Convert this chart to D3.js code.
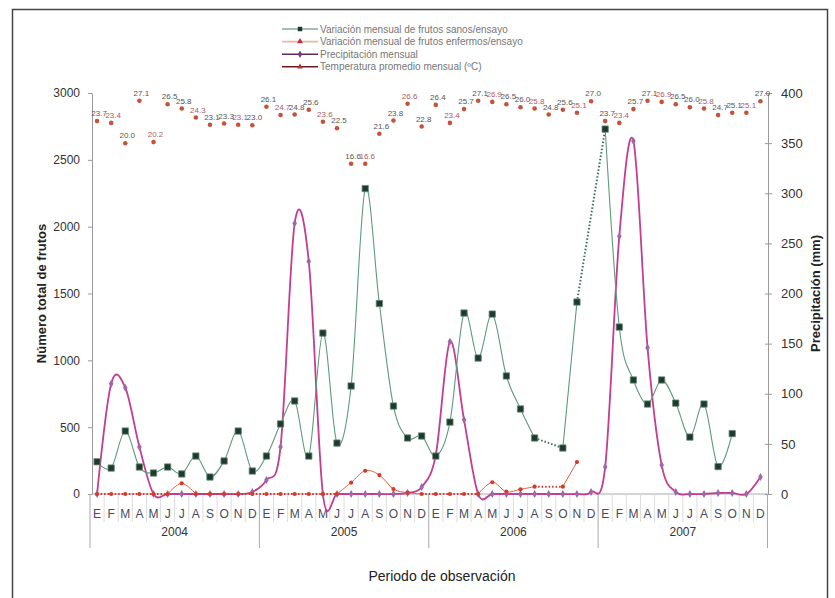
<!DOCTYPE html>
<html>
<head>
<meta charset="utf-8">
<script src="https://cdn.jsdelivr.net/npm/d3@7"></script>
<style>
  body { margin: 0; background: #fff; }
  svg { font-family: "Liberation Sans", Arial, sans-serif; }
</style>
</head>
<body>
<div id="chart"></div>
<script>
// months of each year (E = enero ... D = diciembre)
const monthLetters = ['E', 'F', 'M', 'A', 'M', 'J', 'J', 'A', 'S', 'O', 'N', 'D'];
const years = ['2004', '2005', '2006', '2007'];

// healthy fruits per trial (left axis); null = month not sampled
const healthy = [
  241, 194, 471, 202, 157, 202, 150, 284, 127, 247, 471, 172,
  284, 524, 696, 284, 1204, 381, 808, 2285, 1425, 658, 419, 434,
  284, 538, 1354, 1017, 1346, 883, 636, 419, null, 344, 1436, null,
  2730, 1249, 853, 673, 853, 680, 426, 673, 205, 452, null, null
];

// diseased fruits per trial (left axis)
const diseased = [
  0, 0, 0, 0, 0, 0, 80, 0, 0, 0, 0, 0,
  0, 0, 0, 0, 0, 0, 85, 174, 142, 37, 10, 0,
  0, 0, 0, 0, 88, 17, 35, 55, null, 55, 239, null,
  null, null, null, null, null, null, null, null, null, null, null, null
];

// monthly rainfall in mm (right axis)
const rainfall = [
  0, 110, 106, 47, 0, 0, 0, 0, 0, 0, 0, 2,
  14, 47, 270, 232, 0, 0, 0, 0, 0, 0, 1, 7,
  39, 152, 74, 0, 0, 0, 0, 0, 0, 0, 0, 2,
  27, 257, 352, 146, 29, 2, 0, 0, 1, 1, 0, 17
];

// mean monthly temperature (ºC), shown as labelled points along the top
const temperature = [
  23.7, 23.4, 20.0, 27.1, 20.2, 26.5, 25.8, 24.3, 23.1, 23.3, 23.1, 23.0,
  26.1, 24.7, 24.8, 25.6, 23.6, 22.5, 16.6, 16.6, 21.6, 23.8, 26.6, 22.8,
  26.4, 23.4, 25.7, 27.1, 26.9, 26.5, 26.0, 25.8, 24.8, 25.6, 25.1, 27.0,
  23.7, 23.4, 25.7, 27.1, 26.9, 26.5, 26.0, 25.8, 24.7, 25.1, 25.1, 27.0
];

const legendLabels = [
  'Variación mensual de frutos sanos/ensayo',
  'Variación mensual de frutos enfermos/ensayo',
  'Precipitación mensual',
  'Temperatura promedio mensual (ºC)'
];

const W = 835, H = 598;
const plotTop = 93, plotBottom = 494, plotLeft = 92, plotRight = 768;

const svg = d3.select('#chart').append('svg')
  .attr('width', W).attr('height', H);

// outer frame
svg.append('rect')
  .attr('x', 12.5).attr('y', 9.5).attr('width', 815).attr('height', 600)
  .attr('fill', 'none').attr('stroke', '#444').attr('stroke-width', 1.5);

const months = d3.range(48);
const x = d3.scaleBand().domain(months).range([90, 767.5]);
const cx = i => x(i) + x.bandwidth() / 2;
const yL = d3.scaleLinear().domain([0, 3000]).range([plotBottom, plotTop]);
const yR = d3.scaleLinear().domain([0, 400]).range([plotBottom, plotTop]);
const yT = d3.scaleLinear().domain([16, 28]).range([167.3, 95.3]);

// ---- axes ----
const axL = svg.append('g')
  .attr('transform', `translate(${plotLeft},0)`)
  .call(d3.axisLeft(yL).tickValues(d3.range(0, 3001, 500)).tickFormat(d3.format('d'))
    .tickSize(4).tickSizeOuter(0).tickPadding(8));
const axR = svg.append('g')
  .attr('transform', `translate(${plotRight},0)`)
  .call(d3.axisRight(yR).tickValues(d3.range(0, 401, 50)).tickSize(4).tickSizeOuter(0).tickPadding(9));
[axL, axR].forEach(g => {
  g.selectAll('path, line').attr('stroke', '#999');
  g.selectAll('text').attr('fill', '#333');
});
axL.selectAll('text').attr('font-size', 12);
axR.selectAll('text').attr('font-size', 13);
axR.selectAll('.tick line').attr('x1', -3);

// baseline
svg.append('line')
  .attr('x1', plotLeft).attr('x2', plotRight).attr('y1', plotBottom).attr('y2', plotBottom)
  .attr('stroke', '#aaa');

// month / year category axis
const catAxis = svg.append('g');
months.concat([48]).forEach(i => {
  const xx = i < 48 ? x(i) : x(47) + x.bandwidth();
  const isYear = i % 12 === 0;
  catAxis.append('line')
    .attr('x1', xx).attr('x2', xx)
    .attr('y1', plotBottom).attr('y2', isYear ? 548 : 522)
    .attr('stroke', isYear ? '#aaa' : '#ddd');
});
catAxis.selectAll('text.month')
  .data(months)
  .join('text')
  .attr('class', 'month')
  .attr('x', d => cx(d))
  .attr('y', 518)
  .attr('text-anchor', 'middle')
  .attr('font-size', 12)
  .attr('fill', '#4a4a5a')
  .text(d => monthLetters[d % 12]);
catAxis.selectAll('text.year')
  .data(years)
  .join('text')
  .attr('class', 'year')
  .attr('x', (d, i) => (x(i * 12) + x(i * 12 + 11) + x.bandwidth()) / 2)
  .attr('y', 536)
  .attr('text-anchor', 'middle')
  .attr('font-size', 12)
  .attr('fill', '#333')
  .text(d => d);

// axis titles
svg.append('text')
  .attr('transform', `translate(46,${(plotTop + plotBottom) / 2}) rotate(-90)`)
  .attr('text-anchor', 'middle')
  .attr('font-size', 13).attr('font-weight', 'bold').attr('fill', '#222')
  .text('Número total de frutos');
svg.append('text')
  .attr('transform', `translate(820,${(plotTop + plotBottom) / 2}) rotate(-90)`)
  .attr('text-anchor', 'middle')
  .attr('font-size', 13).attr('font-weight', 'bold').attr('fill', '#222')
  .text('Precipitación (mm)');
svg.append('text')
  .attr('x', 442).attr('y', 581)
  .attr('text-anchor', 'middle')
  .attr('font-size', 14).attr('fill', '#222')
  .text('Periodo de observación');

// ---- series helpers ----
const smooth = d3.line().curve(d3.curveCardinal.tension(0));

// split a series into smooth solid runs and dotted connectors
function pieces(vals, zeroDotted) {
  const pts = vals.map((v, i) => ({ i, v })).filter(d => d.v != null);
  const runs = [], dotted = [];
  let cur = null;
  for (let k = 0; k < pts.length - 1; k++) {
    const a = pts[k], b = pts[k + 1];
    const adjacent = b.i === a.i + 1;
    const flat = zeroDotted && a.v === 0 && b.v === 0;
    if (adjacent && !flat) {
      if (!cur) { cur = [a]; runs.push(cur); }
      cur.push(b);
    } else {
      dotted.push([a, b]);
      cur = null;
    }
  }
  return { pts, runs, dotted };
}

function drawSeries(vals, y, o) {
  const g = svg.append('g');
  const p = pieces(vals, o.zeroDotted);
  g.selectAll('path.dot')
    .data(p.dotted)
    .join('path')
    .attr('d', d => d3.line()(d.map(e => [cx(e.i), y(e.v)])))
    .attr('fill', 'none')
    .attr('stroke', o.dotColor)
    .attr('stroke-width', 2)
    .attr('stroke-dasharray', '1.5 2');
  g.selectAll('path.run')
    .data(p.runs)
    .join('path')
    .attr('d', d => smooth(d.map(e => [cx(e.i), y(e.v)])))
    .attr('fill', 'none')
    .attr('stroke', o.color)
    .attr('stroke-width', o.width);
  g.selectAll('path.mk')
    .data(p.pts)
    .join('path')
    .attr('transform', d => `translate(${cx(d.i)},${y(d.v)})`)
    .attr('d', d3.symbol(o.symbol, o.size))
    .attr('fill', o.marker)
    .attr('stroke', o.markerStroke || 'none')
    .attr('stroke-width', 0.8);
}

// rainfall: smooth magenta line
drawSeries(rainfall, yR, {
  color: '#c33d91', width: 1.8, dotColor: '#c33d91',
  symbol: d3.symbolDiamond, size: 18, marker: '#9b68a8'
});

// diseased fruits
drawSeries(diseased, yL, {
  color: '#e4603f', width: 1, dotColor: '#d4352a', zeroDotted: true,
  symbol: d3.symbolCircle, size: 14, marker: '#d6392c'
});

// healthy fruits
drawSeries(healthy, yL, {
  color: '#5e9a7c', width: 1.1, dotColor: '#3e6e55',
  symbol: d3.symbolSquare, size: 40, marker: '#1e3a2c', markerStroke: '#6a8a78'
});

// temperature points with labels
const tg = svg.append('g');
tg.selectAll('circle')
  .data(temperature)
  .join('circle')
  .attr('cx', (d, i) => cx(i))
  .attr('cy', d => yT(d))
  .attr('r', 2.3)
  .attr('fill', '#c4533e');
tg.selectAll('text')
  .data(temperature)
  .join('text')
  .attr('x', (d, i) => cx(i) + 2)
  .attr('y', d => yT(d) - 5)
  .attr('text-anchor', 'middle')
  .attr('font-size', 8)
  .attr('fill', (d, i) => i % 3 === 1 ? '#b05a5a' : '#555')
  .text(d => d.toFixed(1));

// ---- legend ----
const lg = svg.append('g').attr('transform', 'translate(282,29)');
const legendStyle = [
  { color: '#8aa89a', symbol: d3.symbolSquare, marker: '#1e3a2c', size: 20 },
  { color: '#e8b8a8', symbol: d3.symbolTriangle, marker: '#b83040', size: 16 },
  { color: '#5a2a5e', symbol: d3.symbolDiamond, marker: '#7a3a7a', size: 16 },
  { color: '#6e1a1a', symbol: d3.symbolTriangle, marker: '#b83030', size: 14 }
];
legendLabels.forEach((t, i) => {
  const row = lg.append('g').attr('transform', `translate(0,${i * 12.6})`);
  row.append('line').attr('x1', 0).attr('x2', 36).attr('y1', 0).attr('y2', 0)
    .attr('stroke', legendStyle[i].color).attr('stroke-width', 1.6);
  row.append('path').attr('transform', 'translate(18,0)')
    .attr('d', d3.symbol(legendStyle[i].symbol, legendStyle[i].size))
    .attr('fill', legendStyle[i].marker);
  row.append('text').attr('x', 38).attr('y', 3.5)
    .attr('font-size', 10).attr('fill', '#777')
    .text(t);
});
</script>
</body>
</html>
